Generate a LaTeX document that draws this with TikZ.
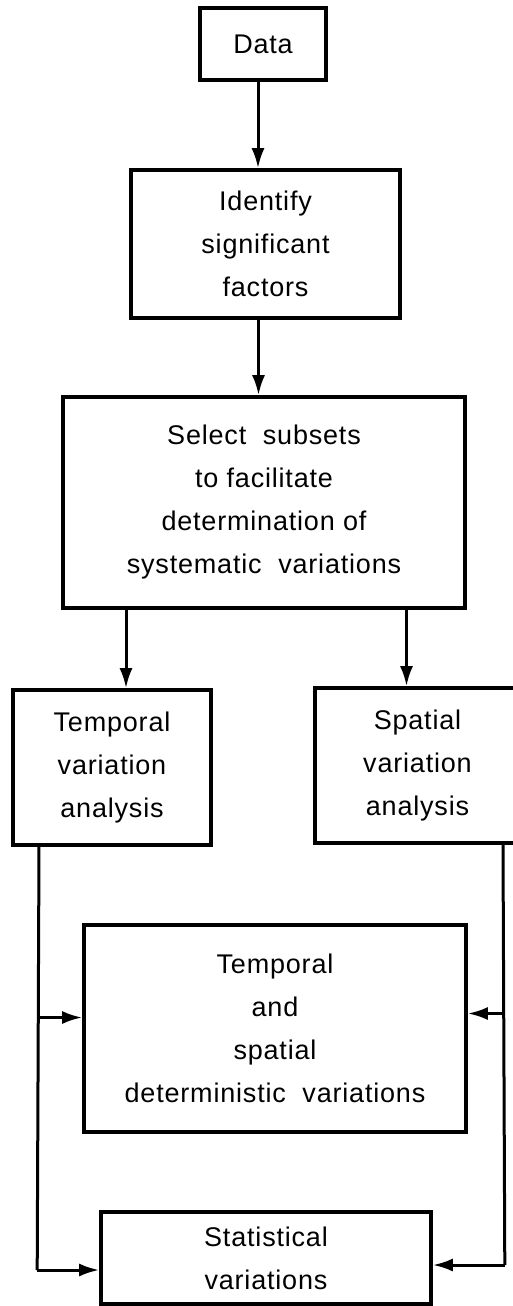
\documentclass[tikz,border=0pt]{standalone}
\usepackage{fontspec}
\setmainfont{Liberation Sans}[LetterSpace=3]
\usetikzlibrary{positioning}
\usetikzlibrary{arrows.meta}
\tikzset{box/.style = {draw, line width=3.6pt, align=center, inner sep=0pt,
                       font=\fontsize{27}{43}\selectfont}}
\tikzset{wire/.style = {line width=3pt}}
\tikzset{flow/.style = {wire, -{Latex[length=20pt,width=13pt]}}}
\begin{document}
\begin{tikzpicture}[x=1pt,y=-1pt]
      \useasboundingbox (0,0) rectangle (513,1306);
      \node[box, minimum width=126pt, minimum height=72pt]
        (data) at (263,44) {Data};
      \node[box, minimum width=269pt, minimum height=148pt]
        (ident) at (265.5,244) {Identify\\significant\\factors};
      \node[box, minimum width=402pt, minimum height=211pt]
        (select) at (264,502.5) {Select \ subsets\\to facilitate\\determination of\\systematic \ variations};
      \node[box, minimum width=198pt, minimum height=155pt]
        (temp) at (112,767.5) {Temporal\\variation\\analysis};
      \node[box, minimum width=205pt, minimum height=155pt]
        (spat) at (417.5,765.5) {Spatial\\variation\\analysis};
      \node[box, minimum width=382pt, minimum height=207pt]
        (det) at (275,1028.5) {Temporal\\and\\spatial\\deterministic \ variations};
      \node[box, minimum width=330pt, minimum height=92pt]
        (stat) at (266,1258) {Statistical\\variations};
      \draw[flow] ([xshift=-5pt]data.south) -- ([xshift=-5pt]data.south |- ident.north);
      \draw[flow] ([xshift=-7pt]ident.south) -- ([xshift=-7pt]ident.south |- select.north);
      \draw[flow] ([xshift=14pt]temp.north |- select.south) -- ([xshift=14pt]temp.north);
      \draw[flow] ([xshift=-11pt]spat.north |- select.south) -- ([xshift=-11pt]spat.north);
      \coordinate (lb) at ([xshift=-62pt,yshift=-12pt]stat.west);
      \coordinate (rb) at ([xshift=72pt,yshift=-7pt]stat.east);
      \draw[wire] ([xshift=-73pt]temp.south) -- (lb);
      \draw[flow] ([yshift=11pt]det.west -| lb) -- ([yshift=11pt]det.west);
      \draw[flow] (lb) -- ([yshift=-12pt]stat.west);
      \draw[wire] ([xshift=85.5pt]spat.south) -- (rb);
      \draw[flow] ([yshift=15pt]det.east -| rb) -- ([yshift=15pt]det.east);
      \draw[flow] (rb) -- ([yshift=-7pt]stat.east);
    \end{tikzpicture}
\end{document}
